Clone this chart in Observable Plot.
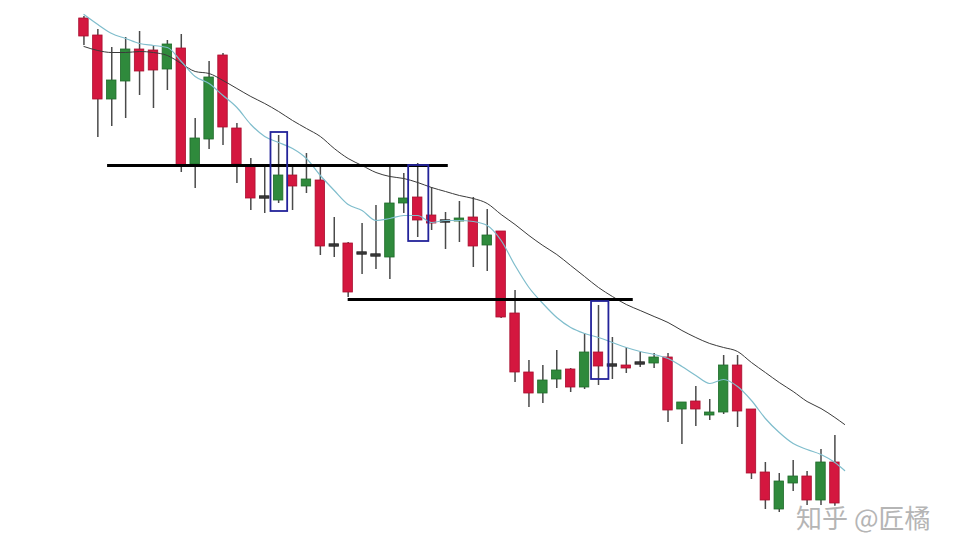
<!DOCTYPE html>
<html>
<head>
<meta charset="utf-8">
<script src="https://cdn.jsdelivr.net/npm/d3@7"></script>
<script src="https://cdn.jsdelivr.net/npm/@observablehq/plot@0.6"></script>
<style>
  html, body { margin: 0; padding: 0; background: #fff; }
  #chart svg { display: block; }
</style>
</head>
<body>
<div id="chart"></div>
<script>
// ---- data (prices) ----
const opens = [1.2982,1.2965,1.2901,1.2919,1.2951,1.2950,1.2931,1.2952,1.2836,1.2861,1.2945,1.2872,1.2835,1.2803,1.2800,1.2825,1.2814,1.2820,1.2755,1.2757,1.2747,1.2745,1.2743,1.2797,1.2803,1.2785,1.2779,1.2779,1.2783,1.2755,1.2769,1.2687,1.2628,1.2607,1.2621,1.2631,1.2613,1.2648,1.2635,1.2635,1.2637,1.2637,1.2643,1.2591,1.2599,1.2585,1.2588,1.2635,1.2591,1.2528,1.2491,1.2517,1.2524,1.2500,1.2538];
const highs = [1.2984,1.2971,1.2953,1.2963,1.2969,1.2954,1.2960,1.2966,1.2882,1.2939,1.2947,1.2877,1.2842,1.2835,1.2865,1.2833,1.2847,1.2835,1.2783,1.2758,1.2777,1.2795,1.2833,1.2827,1.2837,1.2813,1.2788,1.2799,1.2803,1.2791,1.2769,1.2710,1.2640,1.2635,1.2650,1.2632,1.2667,1.2695,1.2663,1.2653,1.2648,1.2647,1.2647,1.2598,1.2614,1.2601,1.2645,1.2645,1.2591,1.2538,1.2527,1.2540,1.2529,1.2551,1.2565];
const lows = [1.2955,1.2863,1.2874,1.2882,1.2905,1.2892,1.2910,1.2828,1.2812,1.2851,1.2855,1.2817,1.2790,1.2787,1.2797,1.2790,1.2807,1.2745,1.2743,1.2703,1.2726,1.2731,1.2721,1.2787,1.2763,1.2770,1.2751,1.2758,1.2733,1.2729,1.2682,1.2618,1.2593,1.2597,1.2612,1.2608,1.2611,1.2615,1.2621,1.2627,1.2633,1.2632,1.2578,1.2556,1.2574,1.2580,1.2586,1.2573,1.2521,1.2491,1.2488,1.2509,1.2495,1.2495,1.2490];
const closes = [1.2964,1.2901,1.2920,1.2951,1.2929,1.2930,1.2956,1.2835,1.2862,1.2923,1.2873,1.2836,1.2802,1.2801,1.2825,1.2814,1.2821,1.2754,1.2753,1.2708,1.2745,1.2743,1.2797,1.2802,1.2780,1.2777,1.2777,1.2782,1.2754,1.2765,1.2683,1.2628,1.2607,1.2620,1.2630,1.2613,1.2648,1.2634,1.2633,1.2632,1.2635,1.2643,1.2590,1.2598,1.2591,1.2588,1.2635,1.2589,1.2527,1.2500,1.2519,1.2524,1.2500,1.2538,1.2497];

// moving averages (last point is past the final candle)
const maIndex = [0,1,2,3,4,5,6,7,8,9,10,11,12,13,14,15,16,17,18,19,20,21,22,23,24,25,26,27,28,29,30,31,32,33,34,35,36,37,38,39,40,41,42,43,44,45,46,47,48,49,50,51,52,53,54,54.7];
const maFast = [1.2986,1.2976,1.2967,1.2962,1.2957,1.2955,1.2953,1.2939,1.2924,1.2917,1.2905,1.2893,1.2876,1.2864,1.2858,1.2852,1.2842,1.2825,1.2810,1.2796,1.2790,1.2780,1.2782,1.2785,1.2785,1.2778,1.2780,1.2780,1.2779,1.2775,1.2760,1.2735,1.2713,1.2697,1.2683,1.2673,1.2667,1.2663,1.2658,1.2653,1.2649,1.2646,1.2642,1.2634,1.2625,1.2617,1.2621,1.2614,1.2600,1.2582,1.2568,1.2557,1.2551,1.2546,1.2538,1.2530];
const maSlow = [1.2954,1.2950,1.2948,1.2948,1.2949,1.2948,1.2945,1.2937,1.2929,1.2927,1.2920,1.2912,1.2904,1.2897,1.2889,1.2880,1.2872,1.2864,1.2852,1.2842,1.2835,1.2828,1.2824,1.2822,1.2818,1.2813,1.2809,1.2805,1.2802,1.2797,1.2786,1.2776,1.2765,1.2755,1.2746,1.2735,1.2724,1.2713,1.2704,1.2696,1.2690,1.2684,1.2678,1.2670,1.2663,1.2657,1.2653,1.2649,1.2638,1.2628,1.2618,1.2609,1.2599,1.2592,1.2583,1.2576];

// horizontal support/resistance lines: [startIndex, endIndex, level]
const levelStart = [1.7, 19.0];
const levelEnd = [26.2, 39.5];
const levelPrice = [1.2835, 1.2701];

// highlighted candle boxes
const boxStart = [13.45, 23.35, 36.5];
const boxEnd = [14.65, 24.8, 37.75];
const boxTop = [1.2868, 1.2835, 1.2699];
const boxBottom = [1.2789, 1.2759, 1.2621];

const watermark = "知乎 @匠橘";

// ---- build tables ----
const candles = opens.map((o, i) => ({
  i, open: o, high: highs[i], low: lows[i], close: closes[i],
  kind: Math.abs(closes[i] - o) <= 0.00025 ? "doji" : (closes[i] > o ? "up" : "down")
}));
const ma = maIndex.map((x, k) => ({i: x, fast: maFast[k], slow: maSlow[k]}));
const levels = levelPrice.map((p, k) => ({x1: levelStart[k], x2: levelEnd[k], y: p}));
const boxes = boxTop.map((t, k) => ({x1: boxStart[k], x2: boxEnd[k], y1: boxBottom[k], y2: t}));

const fillOf = {up: "#2f8a3c", down: "#d4173f", doji: "#3b3b3b"};
const strokeOf = {up: "#1f6a2a", down: "#a80f2f", doji: "#222"};
const half = 0.34;

const chart = Plot.plot({
  width: 954,
  height: 553,
  margin: 0,
  x: {domain: [-6, 62.6], axis: null},
  y: {domain: [1.2447, 1.3000], axis: null},
  marks: [
    Plot.ruleX(candles, {x: "i", y1: "low", y2: "high", stroke: "#4a4a4a", strokeWidth: 1.5}),
    Plot.rect(candles, {
      x1: d => d.i - half, x2: d => d.i + half,
      y1: d => d.kind === "doji" ? d.open - 0.00012 : d.open,
      y2: d => d.kind === "doji" ? d.open + 0.00012 : d.close,
      fill: d => fillOf[d.kind], stroke: d => strokeOf[d.kind], strokeWidth: 0.8
    }),
    Plot.line(ma, {x: "i", y: "slow", stroke: "#3a3a3a", strokeWidth: 1, curve: "monotone-x"}),
    Plot.line(ma, {x: "i", y: "fast", stroke: "#7fbdcc", strokeWidth: 1.2, curve: "monotone-x"}),
    Plot.ruleY(levels, {x1: "x1", x2: "x2", y: "y", stroke: "#000", strokeWidth: 3}),
    Plot.rect(boxes, {x1: "x1", x2: "x2", y1: "y1", y2: "y2", fill: "none", stroke: "#23239a", strokeWidth: 1.8}),
    Plot.text([watermark], {
      frameAnchor: "bottom-right", text: d => d, dx: -24, dy: -26,
      fontSize: 26, fontFamily: "Noto Sans CJK SC", fill: "#b5b5b5",
      stroke: "#fff", strokeWidth: 3, paintOrder: "stroke"
    })
  ]
});
document.getElementById("chart").appendChild(chart);
</script>
</body>
</html>
